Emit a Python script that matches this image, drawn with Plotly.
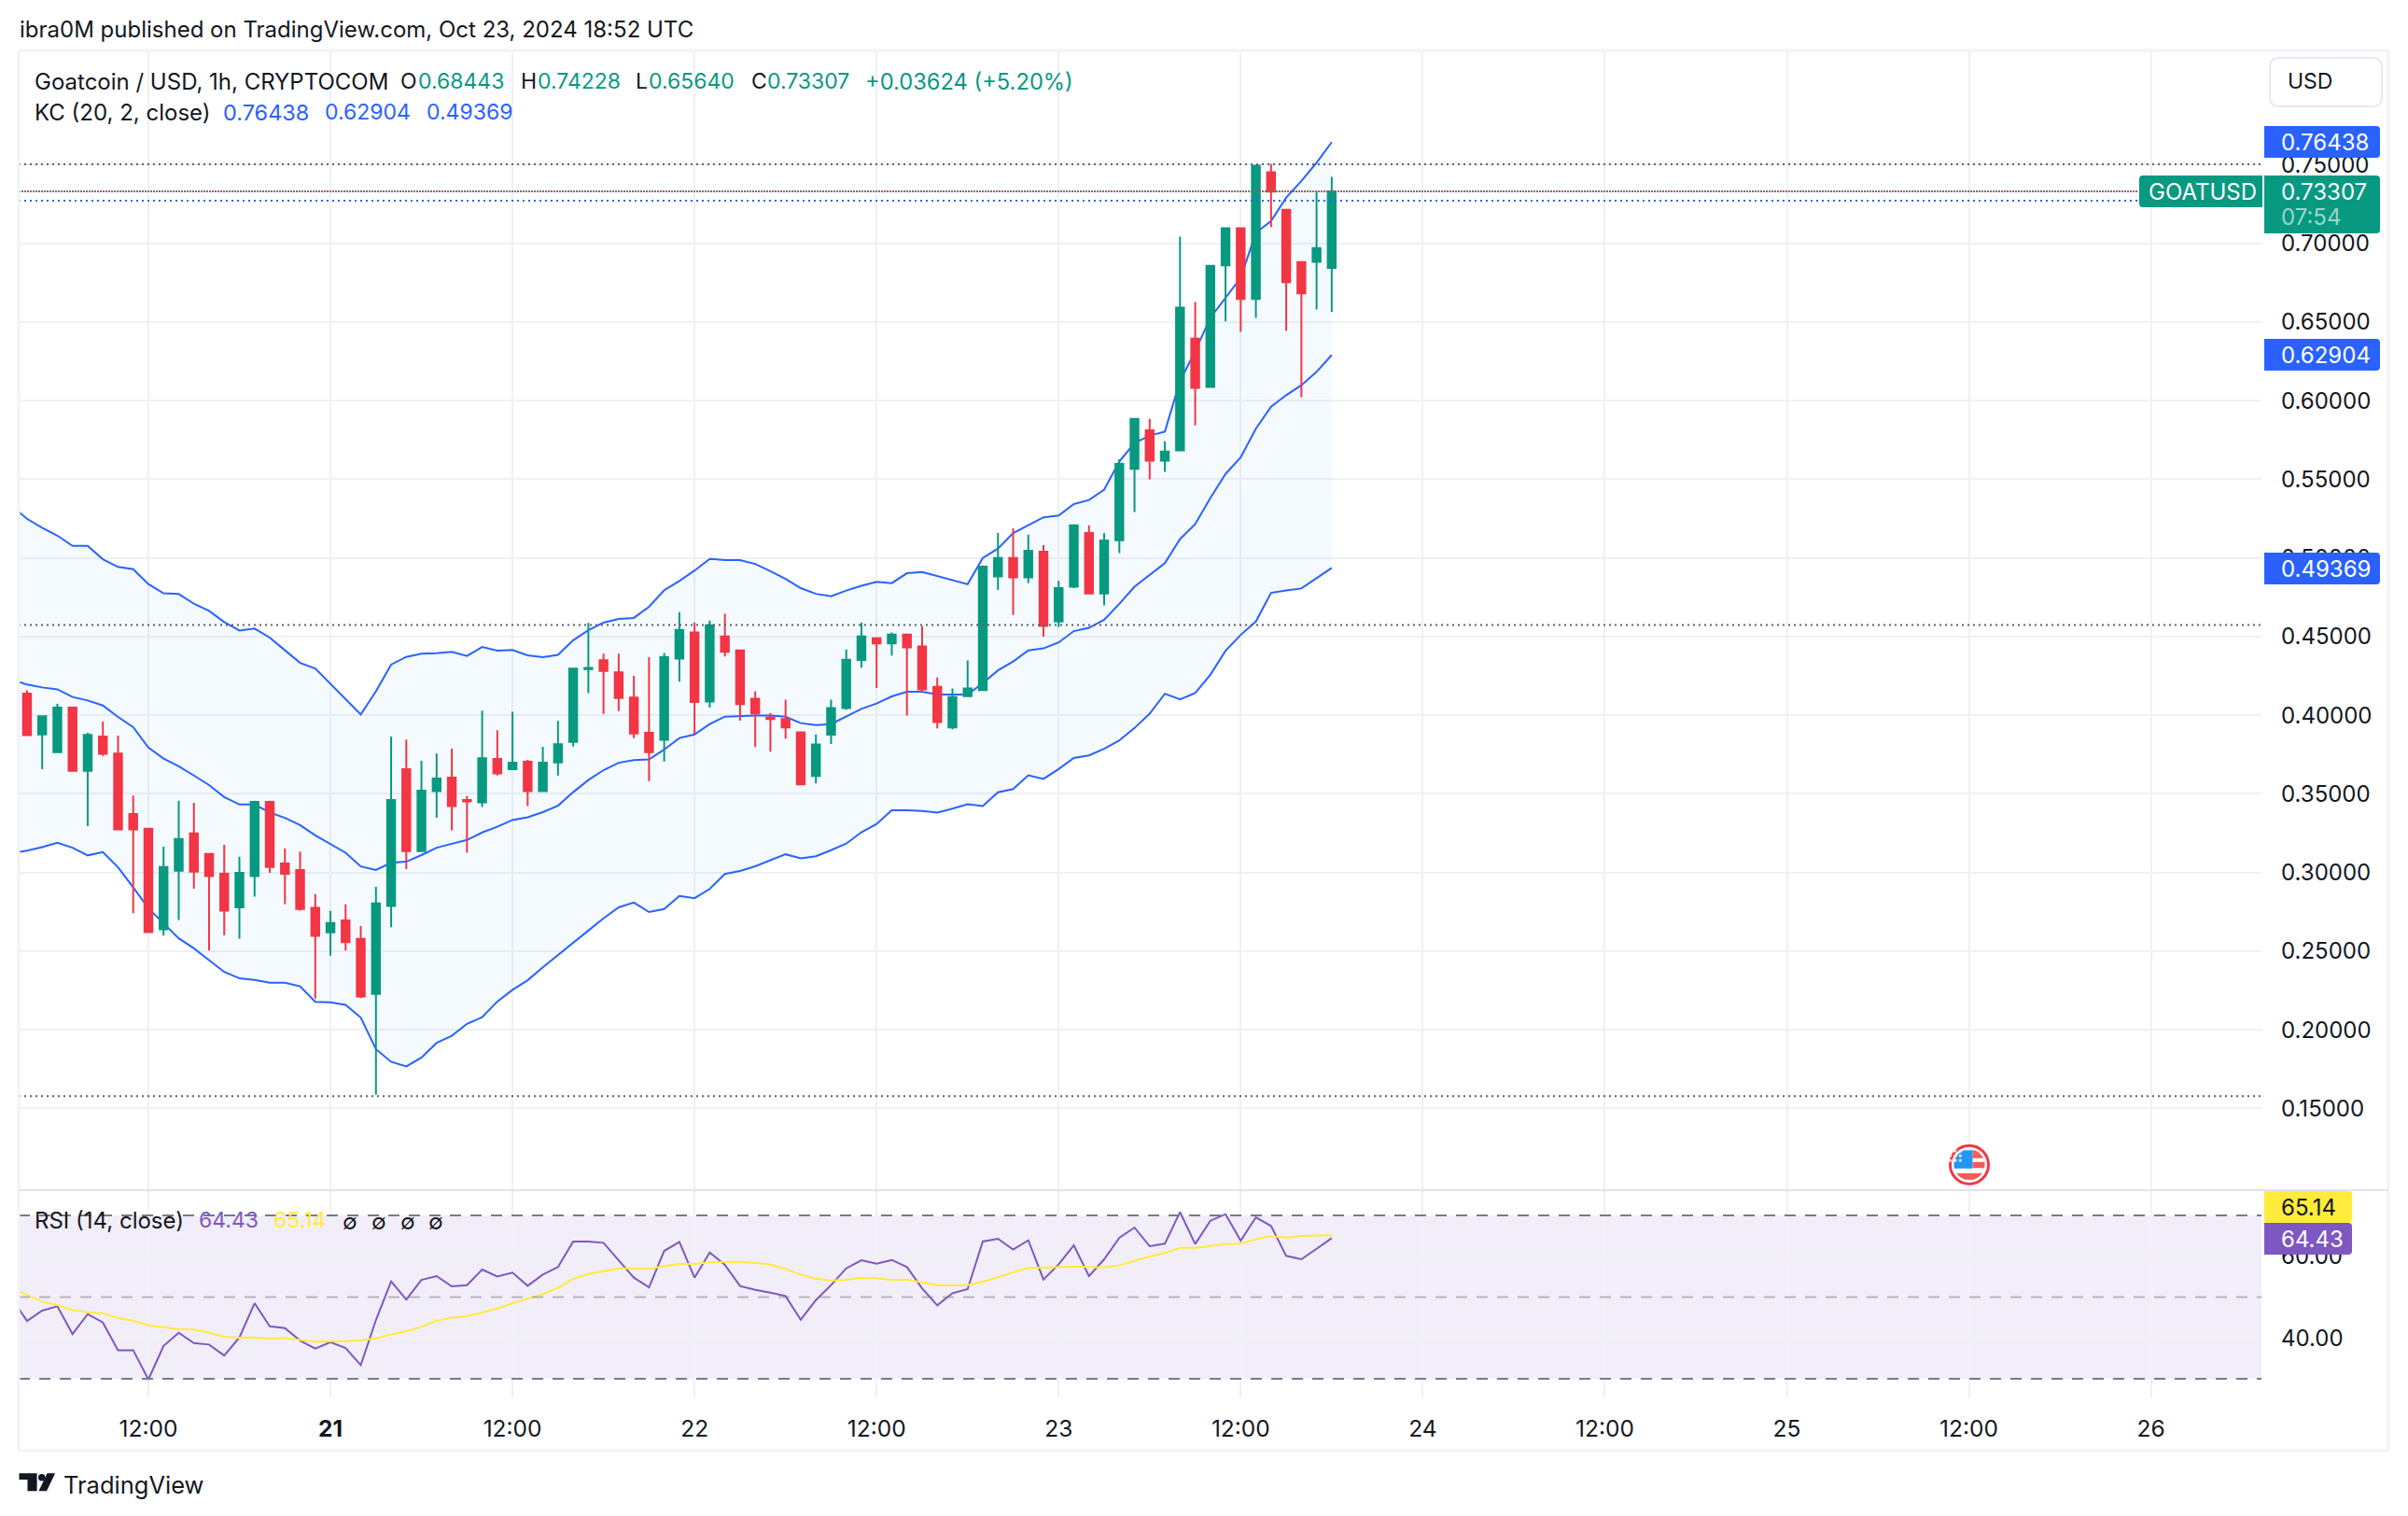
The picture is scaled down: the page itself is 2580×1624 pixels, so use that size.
import numpy as np
import pandas as pd
import plotly.graph_objects as go

W, H = 2580, 1624

# ---- data -------------------------------------------------------------
opens = [.4138,.3878,.3765,.4049,.3647,.3865,.3757,.3372,.3278,.2639,.3012,.3249,.3118,.2993,.2779,.2978,.3450,.3058,.3016,.2775,.2620,.2696,.2578,.2228,.2787,.3657,.3137,
         .3518,.3604,.3461,.3446,.3723,.3657,.3704,.3518,.3700,.3831,.4293,.4350,.4273,.4113,.3888,.3844,.4361,.4526,.4088,.4501,.4412,.4105,.3986,.3976,.3891,.3614,.3876,.4046,
         .4351,.4490,.4456,.4513,.4437,.4181,.3923,.4122,.4160,.4882,.5000,.4876,.5040,.4596,.4817,.5158,.4774,.5113,.5566,.5812,.5619,.5684,.6395,.6087,.6860,.7096,.6646,.7452,.7214,.6881,.6883,.68443]
highs = [.4159,.3994,.4072,.4049,.3888,.3960,.3871,.3490,.3278,.3164,.3456,.3444,.3118,.3177,.3101,.3456,.3456,.3154,.3134,.2863,.2756,.2798,.2660,.2910,.3865,.3846,.3710,
         .3757,.3787,.3486,.4030,.3905,.4022,.3717,.3799,.3964,.4297,.4587,.4392,.4392,.4250,.4369,.4396,.4655,.4590,.4602,.4645,.4412,.4152,.4014,.4099,.3891,.3878,.4099,.4418,
         .4590,.4497,.4526,.4513,.4566,.4240,.4171,.4348,.4952,.5158,.5188,.5148,.5082,.4855,.5207,.5207,.5158,.5627,.5884,.5884,.5742,.7042,.6627,.6858,.7096,.7096,.7494,.7505,.7214,.6881,.7331,.74228]
lows = [.3873,.3657,.3765,.3640,.3295,.3742,.3274,.2741,.2622,.2599,.2698,.2897,.2504,.2601,.2580,.2847,.2999,.2800,.2758,.2199,.2472,.2504,.2201,.1587,.2652,.3022,.3137,
        .3348,.3268,.3126,.3416,.3617,.3657,.3422,.3518,.3617,.3801,.4140,.4009,.4026,.3854,.3581,.3706,.4213,.3883,.4048,.4374,.3965,.3798,.3768,.3851,.3561,.3567,.3817,.4035,
        .4302,.4173,.4380,.3999,.4149,.3917,.3910,.4122,.4160,.4797,.4638,.4840,.4500,.4560,.4808,.4774,.4698,.5031,.5292,.5500,.5547,.5678,.5843,.6087,.6504,.6438,.6527,.7104,.6444,.6022,.6580,.65640]
closes = [.3873,.3994,.4049,.3647,.3875,.3755,.3274,.3274,.2622,.3035,.3213,.3005,.2978,.2758,.2999,.3450,.3035,.2993,.2768,.2597,.2679,.2557,.2212,.2804,.3461,.3137,.3520,
          .3598,.3422,.3452,.3727,.3630,.3698,.3518,.3698,.3816,.4297,.4301,.4282,.4110,.3884,.3765,.4369,.4543,.4084,.4573,.4403,.4071,.4012,.3976,.3923,.3561,.3815,.4046,.4353,
          .4501,.4456,.4513,.4431,.4164,.3957,.4115,.4171,.4945,.5000,.4876,.5046,.4568,.4808,.5207,.4774,.5111,.5597,.5884,.5619,.5676,.6591,.6081,.6858,.7096,.6646,.7494,.7329,.6754,.6682,.6970,.73307]

kc_upper = [.5330,.5249,.5192,.5142,.5077,.5077,.4992,.4943,.4929,.4834,.4775,.4771,.4709,.4664,.4593,.4539,.4551,.4494,.4413,.4333,.4298,.4201,.4102,.4005,.4153,.4322,
            .4371,.4392,.4394,.4403,.4377,.4434,.4411,.4415,.4381,.4369,.4384,.4477,.4540,.4589,.4612,.4619,.4690,.4795,.4854,.4920,.4994,.4986,.4986,.4962,.4916,.4867,.4808,.4772,.4757,.4793,
            .4823,.4848,.4840,.4903,.4911,.4884,.4859,.4833,.5000,.5060,.5158,.5207,.5258,.5270,.5343,.5368,.5434,.5614,.5731,.5778,.5803,.6124,.6315,.6527,.6654,.6781,.7068,.7142,.7291,.7397,.7513,.76438]
kc_middle = [.4227,.4195,.4177,.4165,.4116,.4094,.4062,.3989,.3924,.3795,.3725,.3676,.3617,.3556,.3480,.3433,.3433,.3382,.3348,.3302,.3236,.3183,.3126,.3039,.3016,.3062,
             .3069,.3111,.3158,.3183,.3207,.3255,.3291,.3334,.3351,.3384,.3425,.3511,.3588,.3651,.3698,.3715,.3719,.3782,.3855,.3878,.3944,.3991,.3997,.3999,.3999,.3991,.3950,.3938,.3944,.3993,
             .4041,.4075,.4120,.4149,.4149,.4132,.4132,.4132,.4204,.4285,.4342,.4412,.4425,.4463,.4535,.4556,.4607,.4708,.4817,.4893,.4967,.5120,.5215,.5381,.5534,.5640,.5822,.5962,.6035,.6098,.6183,.62904]
kc_lower = [.3124,.3139,.3162,.3190,.3158,.3109,.3130,.3033,.2906,.2773,.2677,.2582,.2518,.2444,.2368,.2328,.2317,.2300,.2300,.2277,.2178,.2175,.2159,.2078,.1877,.1797,
            .1767,.1824,.1917,.1962,.2038,.2080,.2180,.2254,.2315,.2398,.2474,.2550,.2631,.2709,.2779,.2809,.2749,.2768,.2851,.2837,.2896,.2991,.3010,.3040,.3080,.3116,.3091,.3104,.3142,.3184,
            .3256,.3309,.3396,.3396,.3391,.3381,.3406,.3434,.3423,.3510,.3531,.3618,.3595,.3658,.3728,.3745,.3787,.3840,.3919,.4010,.4137,.4101,.4141,.4257,.4410,.4511,.4596,.4778,.4793,.4806,.4871,.49369]

rsi = [49.65,44.16,46.68,47.74,40.96,45.84,43.78,37.0,37.0,29.83,38.06,41.27,38.75,38.37,35.7,40.12,48.5,42.87,42.41,39.36,37.38,38.98,37.53,33.34,44.39,53.84,49.42,54.22,55.14,52.62,52.93,56.74,55.06,55.98,52.77,55.52,57.35,63.6,63.6,63.29,59.02,54.76,52.39,61.31,63.52,
       54.76,60.93,57.88,52.7,51.78,51.1,50.26,44.47,49.27,52.93,57.04,59.02,58.19,59.1,57.35,52.16,47.97,50.95,51.94,63.6,64.28,61.62,63.9,54.3,58.03,62.68,55.14,59.25,64.51,67.03,62.45,63.06,70.84,62.99,68.7,70.3,63.83,69.54,67.41,60.09,59.25,61.84,64.43]
rsi_ma = [52.16,50.49,48.89,48.05,46.83,46.3,45.99,44.85,44.24,43.09,42.64,42.18,42.03,41.27,40.27,40.05,40.12,39.82,39.97,39.44,39.05,39.21,39.21,39.44,39.89,40.88,41.65,42.71,44.16,45.0,45.3,46.22,47.21,48.51,49.57,50.72,52.24,54.45,55.67,56.36,57.04,57.04,56.89,57.58,58.11,
          58.11,58.49,58.64,58.64,58.41,57.96,56.89,55.52,54.53,54.07,54.22,54.76,54.6,54.22,54.3,53.61,52.93,52.85,52.93,53.77,54.83,55.98,57.12,57.2,57.27,57.5,57.35,57.27,57.8,58.95,59.94,60.78,62.07,62.07,62.45,62.99,63.06,64.21,64.89,64.59,64.97,65.12,65.14]

candle_times = pd.date_range("2024-10-20 04:00", periods=len(opens), freq="h")
line_times = pd.date_range("2024-10-20 03:00", periods=len(kc_upper), freq="h")

time_ticks = ["2024-10-20 12:00", "2024-10-21 00:00", "2024-10-21 12:00", "2024-10-22 00:00",
              "2024-10-22 12:00", "2024-10-23 00:00", "2024-10-23 12:00", "2024-10-24 00:00",
              "2024-10-24 12:00", "2024-10-25 00:00", "2024-10-25 12:00", "2024-10-26 00:00"]
time_labels = ["12:00", "<b>21</b>", "12:00", "22", "12:00", "23", "12:00", "24", "12:00", "25", "12:00", "26"]
price_ticks = [.15, .20, .25, .30, .35, .40, .45, .50, .55, .60, .65, .70, .75]
rsi_ticks = [40, 60]

high_line, mid_line, low_line = 0.7503, 0.4574, 0.1578
last_close, ref_line = 0.7331, 0.7271

# ---- style ------------------------------------------------------------
FONT = "Inter, 'Liberation Sans', sans-serif"
INK = "#131722"
GREEN, RED, BLUE = "#089981", "#f23645", "#2962ff"
PURPLE, YELLOW = "#7e57c2", "#ffeb3b"
GRID = "#f0f1f4"
X_RANGE = ["2024-10-20 03:27", "2024-10-26 07:17"]
LEFT, RIGHT, TOP, SPLIT, BOTTOM = 20, 2423, 54, 1275, 1497


def fx(x):
    return x / W


def fy(y):
    return 1 - y / H


fig = go.Figure()
fig.add_trace(go.Scatter(x=line_times, y=kc_lower, mode="lines", line=dict(color=BLUE, width=2), xaxis="x", yaxis="y"))
fig.add_trace(go.Scatter(x=line_times, y=kc_upper, mode="lines", line=dict(color=BLUE, width=2), fill="tonexty",
                         fillcolor="rgba(33,150,243,0.05)", xaxis="x", yaxis="y"))
fig.add_trace(go.Scatter(x=line_times, y=kc_middle, mode="lines", line=dict(color=BLUE, width=2), xaxis="x", yaxis="y"))
fig.add_trace(go.Candlestick(x=candle_times, open=opens, high=highs, low=lows, close=closes,
                             increasing=dict(line=dict(color=GREEN, width=2), fillcolor=GREEN),
                             decreasing=dict(line=dict(color=RED, width=2), fillcolor=RED),
                             whiskerwidth=0, xaxis="x3", yaxis="y3"))
fig.add_trace(go.Scatter(x=line_times, y=rsi, mode="lines", line=dict(color=PURPLE, width=2), xaxis="x2", yaxis="y2"))
fig.add_trace(go.Scatter(x=line_times, y=rsi_ma, mode="lines", line=dict(color=YELLOW, width=2), xaxis="x2", yaxis="y2"))

shapes = []


def hline(y, yref, x0, x1, color, dash, width=2, layer="above"):
    shapes.append(dict(type="line", xref="paper", yref=yref, x0=fx(x0), x1=fx(x1), y0=y, y1=y,
                       line=dict(color=color, width=width, dash=dash), layer=layer))


def tag(x0, y0, x1, y1, fill, side="r", r=4):
    """Filled label box, rounded on one side."""
    if side == "r":
        p = (f"M {fx(x0)},{fy(y0)} L {fx(x1-r)},{fy(y0)} Q {fx(x1)},{fy(y0)} {fx(x1)},{fy(y0+r)} "
             f"L {fx(x1)},{fy(y1-r)} Q {fx(x1)},{fy(y1)} {fx(x1-r)},{fy(y1)} L {fx(x0)},{fy(y1)} Z")
    else:
        p = (f"M {fx(x1)},{fy(y0)} L {fx(x0+r)},{fy(y0)} Q {fx(x0)},{fy(y0)} {fx(x0)},{fy(y0+r)} "
             f"L {fx(x0)},{fy(y1-r)} Q {fx(x0)},{fy(y1)} {fx(x0+r)},{fy(y1)} L {fx(x1)},{fy(y1)} Z")
    shapes.append(dict(type="path", xref="paper", yref="paper", path=p, fillcolor=fill, line=dict(width=0), layer="above"))


def poly(points, fill):
    p = "M " + " L ".join(f"{fx(a):.6f},{fy(b):.6f}" for a, b in points) + " Z"
    shapes.append(dict(type="path", xref="paper", yref="paper", path=p, fillcolor=fill, line=dict(width=0), layer="above"))


# RSI band and levels
shapes.append(dict(type="rect", xref="paper", yref="y2", x0=fx(LEFT), x1=fx(RIGHT), y0=30, y1=70,
                   fillcolor="rgba(126,87,194,0.1)", line=dict(width=0), layer="below"))
hline(70, "y2", LEFT, RIGHT, "#787b86", "12px,10px")
hline(30, "y2", LEFT, RIGHT, "#787b86", "12px,10px")
hline(50, "y2", LEFT, RIGHT, "rgba(120,123,134,0.5)", "12px,10px")

# dotted price lines
for lvl in (high_line, mid_line, low_line):
    hline(lvl, "y", LEFT, RIGHT, "#5d606b", "2px,4px")
hline(last_close, "y", LEFT, 2291, GREEN, "0px,3px,2px,1px")
hline(last_close, "y", LEFT, 2291, RED, "2px,4px")
hline(ref_line, "y", LEFT, 2291, BLUE, "2px,4px")

# chart frame
FRAME = "#f0f3fa"
for a, b, c, d in ((LEFT, TOP, 2559, TOP), (LEFT, 1554, 2559, 1554), (LEFT, TOP, LEFT, 1554), (2559, TOP, 2559, 1554)):
    shapes.append(dict(type="line", xref="paper", yref="paper", x0=fx(a), x1=fx(c), y0=fy(b), y1=fy(d),
                       line=dict(color=FRAME, width=3), layer="above"))
shapes.append(dict(type="line", xref="paper", yref="paper", x0=fx(LEFT), x1=fx(2559), y0=fy(SPLIT), y1=fy(SPLIT),
                   line=dict(color="#e0e3eb", width=2), layer="above"))

# price tags
tag(2426, 135, 2550, 169, BLUE)
tag(2426, 188, 2550, 250, GREEN)
tag(2292, 188, 2424, 222, GREEN, side="l")
tag(2426, 363, 2550, 397, BLUE)
tag(2426, 592, 2550, 626, BLUE)
tag(2426, 1276, 2520, 1310, YELLOW)
tag(2426, 1310, 2520, 1344, PURPLE)

# USD button
bx0, by0, bx1, by1, rr = 2432, 62, 2552, 114, 10
shapes.append(dict(type="path", xref="paper", yref="paper",
                   path=(f"M {fx(bx0+rr)},{fy(by0)} L {fx(bx1-rr)},{fy(by0)} Q {fx(bx1)},{fy(by0)} {fx(bx1)},{fy(by0+rr)} "
                         f"L {fx(bx1)},{fy(by1-rr)} Q {fx(bx1)},{fy(by1)} {fx(bx1-rr)},{fy(by1)} "
                         f"L {fx(bx0+rr)},{fy(by1)} Q {fx(bx0)},{fy(by1)} {fx(bx0)},{fy(by1-rr)} "
                         f"L {fx(bx0)},{fy(by0+rr)} Q {fx(bx0)},{fy(by0)} {fx(bx0+rr)},{fy(by0)} Z"),
                   fillcolor="white", line=dict(color="#e8eaf0", width=2), layer="above"))

# event flag icon
cx, cy = 2110, 1247.7
shapes.append(dict(type="circle", xref="paper", yref="paper", x0=fx(cx-20.5), x1=fx(cx+20.5), y0=fy(cy-20.5), y1=fy(cy+20.5),
                   fillcolor="white", line=dict(color=RED, width=3), layer="above"))


def disc_band(y0, y1, x0=-99, x1=99, r=16.5):
    """Polygon: the part of a disc between two heights and two x limits."""
    ys = np.linspace(y0, y1, 9)
    right = [(cx + min(x1, np.sqrt(max(r*r - v*v, 0))), cy + v) for v in ys]
    left = [(cx + max(x0, -np.sqrt(max(r*r - v*v, 0))), cy + v) for v in ys[::-1]]
    return right + left


poly(disc_band(-15.5, 4, -99, 3.5), "#2196f3")
poly(disc_band(-15.5, -7, 3.5, 99), "#f45b5b")
poly(disc_band(-3, 3.5, 3.5, 99), "#f45b5b")
poly(disc_band(9, 16), "#f45b5b")

# TradingView logo
poly([(20.5, 1578.3), (39.6, 1578.3), (39.6, 1597.3), (29.5, 1597.3), (29.5, 1585), (20.5, 1585)], INK)
shapes.append(dict(type="circle", xref="paper", yref="paper", x0=fx(41), x1=fx(48.5), y0=fy(1579), y1=fy(1586.5),
                   fillcolor=INK, line=dict(width=0), layer="above"))
poly([(59.1, 1578.3), (50.5, 1578.3), (41.5, 1597.3), (50, 1597.3)], INK)

annotations = []


def label(x, y, text, color=INK, size=23):
    annotations.append(dict(xref="paper", yref="paper", x=fx(x), y=fy(y), text=text, showarrow=False,
                            xanchor="left", yanchor="middle", align="left", borderpad=0,
                            font=dict(family=FONT, size=size, color=color)))


label(20, 32, "ibra0M published on TradingView.com, Oct 23, 2024 18:52 UTC", INK, 24)
label(36, 87, "Goatcoin / USD, 1h, CRYPTOCOM", INK, 24)
for x, k, v_x, v in ((428, "O", 447, "0.68443"), (557, "H", 575, "0.74228"), (680, "L", 694, "0.65640"), (804, "C", 821, "0.73307")):
    label(x, 87, k)
    label(v_x, 87, v, GREEN)
label(926, 87, "+0.03624 (+5.20%)", GREEN, 23.7)
label(36, 120, "KC (20, 2, close)", INK, 24)
label(238, 120, "0.76438", BLUE, 23.5)
label(347, 120, "0.62904", BLUE)
label(456, 120, "0.49369", BLUE)
label(36, 1307, "RSI (14, close)", INK, 24)
label(212, 1307, "64.43", PURPLE)
label(292, 1307, "65.14", YELLOW)
for x in (366, 397, 428, 458):
    label(x, 1309, "∅", INK, 23)
label(2450, 87, "USD")
label(2443, 152, "0.76438", "white", 24)
label(2443, 205, "0.73307", "white", 24)
label(2443, 233, "07:54", "rgba(255,255,255,0.6)", 24)
label(2301, 205, "GOATUSD", "white", 24)
label(2443, 380, "0.62904", "white", 24)
label(2443, 609, "0.49369", "white", 24)
label(2443, 1293, "65.14", INK, 24)
label(2443, 1327, "64.43", "white", 24)
label(67, 1590, "TradingView", INK, 25.5)
for yy in (1236.5, 1241.5, 1246.5):
    annotations.append(dict(xref="paper", yref="paper", x=fx(cx-6.5), y=fy(yy), text="★★★", showarrow=False,
                            font=dict(family=FONT, size=5, color="white"), borderpad=0))

xcommon = dict(type="date", range=X_RANGE, domain=[fx(LEFT), fx(RIGHT)], tickmode="array", tickvals=time_ticks,
               ticktext=time_labels, showline=False, zeroline=False, rangeslider=dict(visible=False),
               tickfont=dict(family=FONT, size=24.5, color=INK))

fig.update_layout(
    width=W, height=H, margin=dict(l=0, r=0, t=0, b=0, autoexpand=False),
    paper_bgcolor="white", plot_bgcolor="white", showlegend=False, boxgap=0.26,
    font=dict(family=FONT, color=INK),
    xaxis=dict(**xcommon, anchor="y", showgrid=True, gridcolor=GRID, gridwidth=2, showticklabels=False, ticks=""),
    xaxis2=dict(**xcommon, anchor="y2", showgrid=True, gridcolor=GRID, gridwidth=2, showticklabels=True, ticks="",
                ticklabelstandoff=16),
    xaxis3=dict(**xcommon, overlaying="x", anchor="y3", showgrid=False, showticklabels=False, ticks=""),
    yaxis=dict(domain=[fy(SPLIT), fy(TOP)], range=[0.09805, 0.82267], side="right", anchor="x", tickmode="array",
               tickvals=price_ticks, tickformat=".5f", showgrid=True, gridcolor=GRID, gridwidth=2, zeroline=False,
               showline=False, ticks="", ticklabelstandoff=20, tickfont=dict(family=FONT, size=24, color=INK)),
    yaxis2=dict(domain=[fy(BOTTOM), fy(SPLIT)], range=[25.43, 76.17], side="right", anchor="x2", tickmode="array",
                tickvals=rsi_ticks, tickformat=".2f", showgrid=True, gridcolor=GRID, gridwidth=2, zeroline=False,
                showline=False, ticks="", ticklabelstandoff=20, tickfont=dict(family=FONT, size=24, color=INK)),
    yaxis3=dict(domain=[fy(SPLIT), fy(TOP)], range=[0.09805, 0.82267], side="right", anchor="x3", overlaying="y",
                showgrid=False, showticklabels=False, zeroline=False, ticks=""),
    shapes=shapes, annotations=annotations,
)

fig.write_html("out.html", config=dict(displayModeBar=False),
               post_script="document.body.style.margin='0';document.documentElement.style.overflow='hidden';")
